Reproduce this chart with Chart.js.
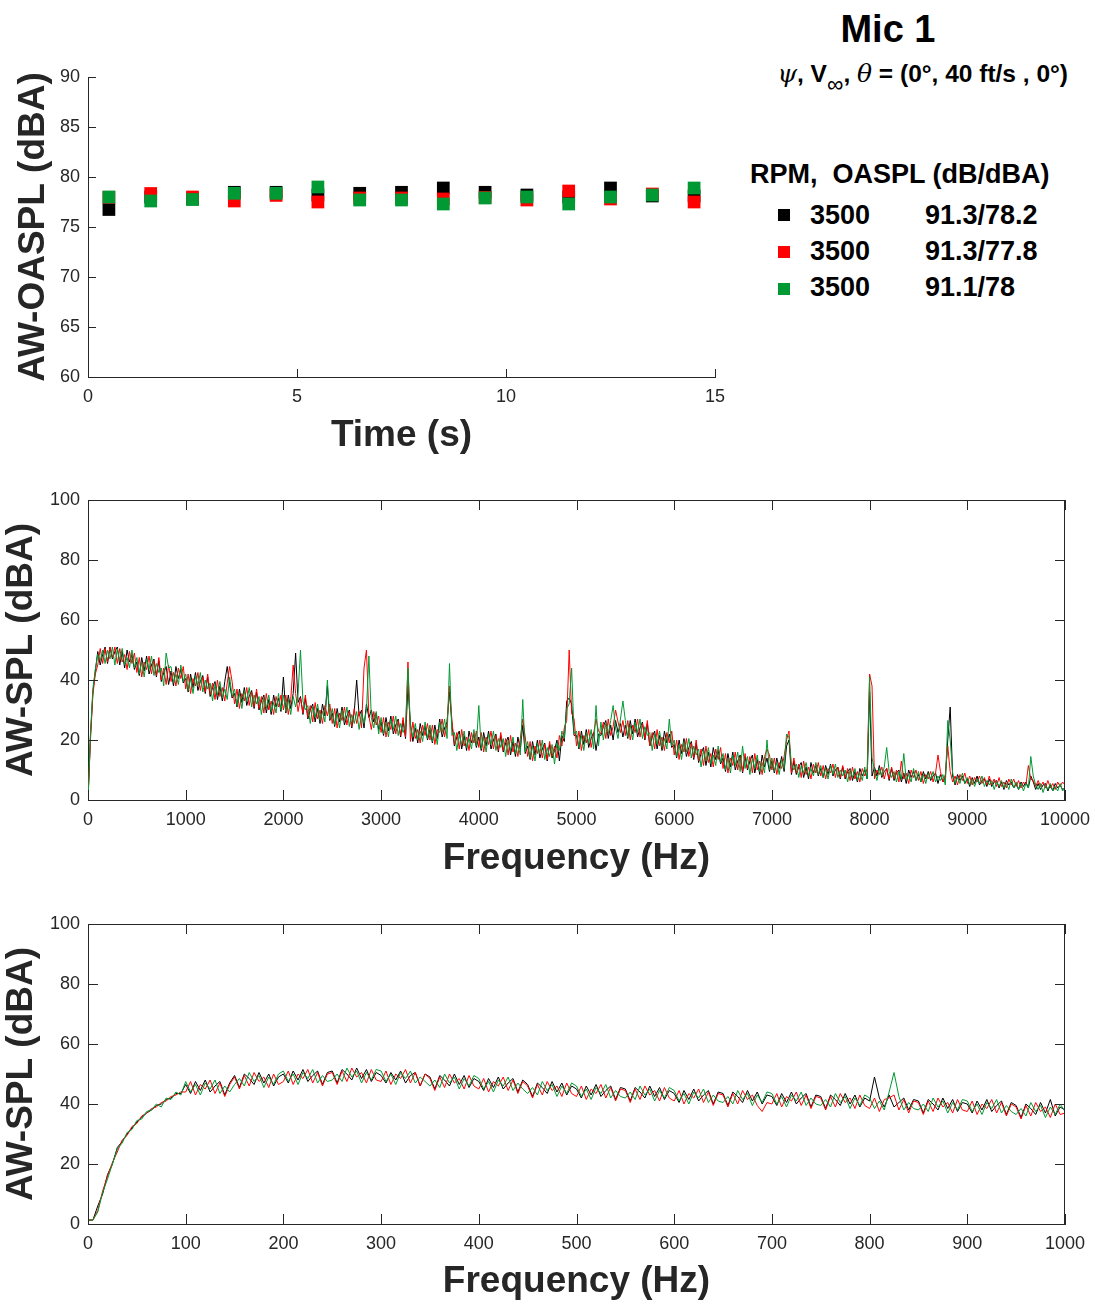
<!DOCTYPE html>
<html lang="en">
<head>
    <meta charset="UTF-8">
    <title>Mic 1 - AW-OASPL / AW-SPL</title>
    <script src="https://cdn.jsdelivr.net/npm/chart.js"></script>
    <style>
        body { margin: 0; background: #fff; }
        .page { position: relative; width: 1095px; height: 1310px; overflow: hidden;
                font-family: "Liberation Sans", Arial, Helvetica, sans-serif; color: #000; }
        .plot { position: absolute; left: 0; }
        .txt { position: absolute; font-weight: bold; white-space: nowrap; }
        .gk { font-family: "DejaVu Serif", "Liberation Serif", serif; font-style: italic; font-weight: normal; font-size: 25px; }
        .inf { font-weight: normal; font-size: 23px; position: relative; top: 10px; }
        .leg { font-size: 27px; line-height: 27px; }
        .sq { position: absolute; width: 12px; height: 12px; }
    </style>
</head>
<body>
<div class="page">
    <!-- Charts -->
    <div class="plot" style="top:55px;"><canvas id="oasplChart" width="740" height="415"></canvas></div>
    <div class="plot" style="top:480px;"><canvas id="splWideChart" width="1095" height="405"></canvas></div>
    <div class="plot" style="top:905px;"><canvas id="splLowChart" width="1095" height="405"></canvas></div>

    <!-- Title -->
    <div class="txt" style="left:788px; width:200px; text-align:center; top:10px; font-size:38px; line-height:38px;">Mic 1</div>
    <div class="txt" style="right:27px; top:62px; font-size:24.5px; line-height:24px;"><span class="gk">ψ</span>, V<span class="inf">∞</span>, <span class="gk">θ</span> = (0°, 40 ft/s , 0°)</div>

    <!-- Legend -->
    <div class="txt leg" style="left:750px; top:161px;">RPM,&nbsp;&nbsp;OASPL (dB/dBA)</div>
    <div class="sq" style="left:778px; top:209px; background:#000000;"></div>
    <div class="txt leg" style="left:810px; top:202px;">3500</div>
    <div class="txt leg" style="left:925px; top:202px;">91.3/78.2</div>
    <div class="sq" style="left:778px; top:246px; background:#ff0000;"></div>
    <div class="txt leg" style="left:810px; top:238px;">3500</div>
    <div class="txt leg" style="left:925px; top:238px;">91.3/77.8</div>
    <div class="sq" style="left:778px; top:283px; background:#009933;"></div>
    <div class="txt leg" style="left:810px; top:274px;">3500</div>
    <div class="txt leg" style="left:925px; top:274px;">91.1/78</div>
</div>

<script>
    // OASPL vs time (1 s blocks)
    const timeS = [0.5, 1.5, 2.5, 3.5, 4.5, 5.5, 6.5, 7.5, 8.5, 9.5, 10.5, 11.5, 12.5, 13.5, 14.5];
    const oasplBlack = [76.75, 78.0, 77.8, 78.47, 78.47, 78.2, 78.37, 78.47, 78.9, 78.47, 78.2, 78.0, 78.9, 78.1, 78.1];
    const oasplRed   = [77.97, 78.35, 78.0, 77.6, 78.16, 77.5, 77.9, 77.9, 77.8, 77.95, 77.7, 78.6, 77.8, 78.3, 77.5];
    const oasplGreen = [78.0, 77.6, 77.75, 78.37, 78.37, 79.0, 77.7, 77.7, 77.3, 77.9, 78.0, 77.3, 78.0, 78.2, 78.9];

    // Spectrum 0-10 kHz (25 Hz bins)
    const hiFreqHz = [
        0,25,50,75,100,125,150,175,200,225,250,275,300,325,350,375,400,425,450,475,
        500,525,550,575,600,625,650,675,700,725,750,775,800,825,850,875,900,925,950,975,
        1000,1025,1050,1075,1100,1125,1150,1175,1200,1225,1250,1275,1300,1325,1350,1375,1400,1425,1450,1475,
        1500,1525,1550,1575,1600,1625,1650,1675,1700,1725,1750,1775,1800,1825,1850,1875,1900,1925,1950,1975,
        2000,2025,2050,2075,2100,2125,2150,2175,2200,2225,2250,2275,2300,2325,2350,2375,2400,2425,2450,2475,
        2500,2525,2550,2575,2600,2625,2650,2675,2700,2725,2750,2775,2800,2825,2850,2875,2900,2925,2950,2975,
        3000,3025,3050,3075,3100,3125,3150,3175,3200,3225,3250,3275,3300,3325,3350,3375,3400,3425,3450,3475,
        3500,3525,3550,3575,3600,3625,3650,3675,3700,3725,3750,3775,3800,3825,3850,3875,3900,3925,3950,3975,
        4000,4025,4050,4075,4100,4125,4150,4175,4200,4225,4250,4275,4300,4325,4350,4375,4400,4425,4450,4475,
        4500,4525,4550,4575,4600,4625,4650,4675,4700,4725,4750,4775,4800,4825,4850,4875,4900,4925,4950,4975,
        5000,5025,5050,5075,5100,5125,5150,5175,5200,5225,5250,5275,5300,5325,5350,5375,5400,5425,5450,5475,
        5500,5525,5550,5575,5600,5625,5650,5675,5700,5725,5750,5775,5800,5825,5850,5875,5900,5925,5950,5975,
        6000,6025,6050,6075,6100,6125,6150,6175,6200,6225,6250,6275,6300,6325,6350,6375,6400,6425,6450,6475,
        6500,6525,6550,6575,6600,6625,6650,6675,6700,6725,6750,6775,6800,6825,6850,6875,6900,6925,6950,6975,
        7000,7025,7050,7075,7100,7125,7150,7175,7200,7225,7250,7275,7300,7325,7350,7375,7400,7425,7450,7475,
        7500,7525,7550,7575,7600,7625,7650,7675,7700,7725,7750,7775,7800,7825,7850,7875,7900,7925,7950,7975,
        8000,8025,8050,8075,8100,8125,8150,8175,8200,8225,8250,8275,8300,8325,8350,8375,8400,8425,8450,8475,
        8500,8525,8550,8575,8600,8625,8650,8675,8700,8725,8750,8775,8800,8825,8850,8875,8900,8925,8950,8975,
        9000,9025,9050,9075,9100,9125,9150,9175,9200,9225,9250,9275,9300,9325,9350,9375,9400,9425,9450,9475,
        9500,9525,9550,9575,9600,9625,9650,9675,9700,9725,9750,9775,9800,9825,9850,9875,9900,9925,9950,9975,
        10000
    ];
    const hiBlack = [
        0, 21, 36, 43, 49.5, 45, 48.5, 51, 45.5, 51, 47, 49.5, 51, 45, 49.5, 44, 50, 46, 48.5, 43.5,
        46, 41.5, 47.5, 43, 48, 42, 45, 47, 41, 46.5, 39.5, 42.5, 44.5, 38.5, 43, 38, 44.5, 40.5, 43.5, 39,
        40.5, 36, 42, 37.5, 42.5, 36.5, 39.5, 41.5, 35.5, 41, 34.5, 37.5, 39.5, 33.5, 38, 33, 39.5, 44.5, 38.5, 34,
        35.5, 31, 37, 32.5, 37.5, 31.5, 34.5, 36.5, 30.5, 36, 30, 33, 35, 29, 33.5, 28.5, 35, 31, 34, 29.5,
        41, 29, 35, 30.5, 35.5, 49, 32.5, 34.5, 28.5, 34, 27, 30, 32, 26, 30.5, 25.5, 32, 28, 38, 26.5,
        29, 24.5, 30.5, 26, 31, 25, 28, 30, 24, 29.5, 40, 28, 30, 24, 32, 27.5, 30, 26, 29, 23.5,
        26, 21.5, 27.5, 23, 28, 22, 25, 27, 21, 26.5, 20.5, 38, 25.5, 19.5, 24, 19, 25.5, 21.5, 24.5, 20,
        23.5, 19, 25, 20.5, 27, 21, 24, 26, 36, 25.5, 18, 21, 23, 17, 21.5, 16.5, 23, 19, 22, 17.5,
        21, 16.5, 22.5, 18, 23, 17, 20, 22, 16, 21.5, 16, 19, 21, 15, 19.5, 14.5, 21, 17, 25, 15.5,
        18, 13.5, 19.5, 15, 20, 14, 17, 19, 13, 18.5, 14, 16.5, 20, 13, 21.5, 19.5, 33, 34, 32, 21.5,
        21.5, 17, 23, 18.5, 23.5, 17.5, 20.5, 22.5, 16.5, 22, 21.5, 24.5, 26.5, 20.5, 25, 20, 26.5, 22.5, 25.5, 21,
        25, 20.5, 26.5, 22, 27, 21, 24, 26, 20, 25.5, 18, 21, 23, 17, 21.5, 16.5, 23, 19, 22, 17.5,
        18.5, 14, 20, 15.5, 20.5, 14.5, 17.5, 19.5, 13.5, 19, 12.5, 15.5, 17.5, 11.5, 16, 11, 17.5, 13.5, 16.5, 12,
        14, 9.5, 15.5, 11, 16, 10, 13, 15, 9, 14.5, 10, 13, 15, 9, 13.5, 8.5, 15, 11, 14, 9.5,
        13, 9, 14, 10.5, 14.5, 9.5, 18, 20, 8.5, 13, 8.5, 11, 12.5, 7.5, 11, 7, 12.5, 9, 11.5, 8,
        10.5, 7.5, 11.5, 8.5, 12, 8, 10, 11, 7, 11, 7, 9.5, 10.5, 6.5, 9.5, 6, 10.5, 8, 10, 7,
        36, 8, 11, 8, 11.5, 7.5, 9.5, 10.5, 6.5, 10.5, 6.5, 9, 10, 6, 9, 5.5, 10, 7.5, 9.5, 6.5,
        8.5, 6, 9.5, 7, 9.5, 6.5, 8, 9, 5.5, 8.5, 6, 7.5, 20, 31, 8, 5, 8.5, 6.5, 8, 5.5,
        7, 4.5, 7.5, 5.5, 8, 5, 6.5, 7, 4.5, 7, 4.5, 6, 6.5, 4, 6, 3.5, 6.5, 5, 6, 4,
        5.5, 3.5, 6, 4.5, 6, 4, 8, 6, 3.5, 5.5, 3.5, 5, 5.5, 3, 5, 3, 5.5, 4, 5, 3.5,
        4
    ];
    const hiRed = [
        0, 20, 35, 42, 45, 50.5, 45.5, 50.5, 46, 51, 47.5, 51, 45.5, 50.5, 46, 48.5, 43.5, 49.5, 45.5, 49,
        42.5, 47.5, 41, 46, 43.5, 48, 42, 46.5, 41.5, 47.5, 40, 44, 38.5, 45, 39.5, 42.5, 38, 44, 40.5, 44.5,
        37, 42, 35.5, 40.5, 38, 42.5, 36.5, 41, 36, 42, 35, 39, 33.5, 40, 34.5, 37.5, 33, 39, 44.5, 39.5,
        32, 37, 30.5, 35.5, 33, 37.5, 31.5, 36, 31, 37, 30.5, 34.5, 29, 35.5, 30, 33, 28.5, 34.5, 31, 35,
        30, 35, 28.5, 33.5, 45, 35.5, 29.5, 34, 29, 35, 27.5, 31.5, 26, 32.5, 27, 30, 25.5, 31.5, 28, 32,
        25.5, 30.5, 24, 29, 26.5, 31, 25, 29.5, 24.5, 30.5, 25.5, 29.5, 24, 44, 50, 28, 23.5, 29.5, 25, 28,
        22.5, 27.5, 21, 26, 23.5, 28, 22, 26.5, 21.5, 27.5, 21, 46, 19.5, 26, 20.5, 23.5, 19, 25, 21.5, 25.5,
        20, 25, 18.5, 23.5, 22.5, 27, 21, 25.5, 38, 26.5, 18.5, 22.5, 17, 23.5, 18, 21, 16.5, 22.5, 19, 23,
        17.5, 22.5, 16, 21, 18.5, 23, 17, 21.5, 16.5, 22.5, 16.5, 20.5, 15, 21.5, 16, 19, 14.5, 20.5, 27, 21,
        14.5, 19.5, 13, 18, 15.5, 20, 14, 18.5, 13.5, 19.5, 14.5, 18, 14, 21.5, 18, 24, 26.5, 50, 29, 27,
        18, 23, 16.5, 21.5, 19, 23.5, 17.5, 22, 27, 23, 22, 26, 20.5, 27, 21.5, 24.5, 30, 26, 22.5, 26.5,
        21.5, 26.5, 20, 25, 22.5, 27, 21, 25.5, 20.5, 26.5, 18, 22.5, 17, 23.5, 18, 21, 16.5, 22.5, 19, 23,
        15, 20, 13.5, 18.5, 16, 20.5, 14.5, 19, 14, 20, 13, 17, 11.5, 18, 12.5, 15.5, 11, 17, 13.5, 17.5,
        10.5, 15.5, 9, 14, 11.5, 16, 10, 14.5, 9.5, 15.5, 10.5, 14.5, 9, 15.5, 10, 13, 8.5, 14.5, 17, 15,
        10, 14, 8.5, 12.5, 10.5, 14.5, 20, 23, 9, 14, 9, 12, 7.5, 13, 8.5, 11, 7, 12, 9, 12.5,
        8, 11.5, 7, 10.5, 9, 12, 7.5, 11, 7.5, 11.5, 7.5, 10.5, 6.5, 11, 7, 9.5, 6, 10.5, 8, 10.5,
        42, 38, 7, 10, 8.5, 11, 7, 10.5, 7, 11, 7, 10, 6, 13, 7, 9, 5.5, 10, 7.5, 10,
        6.5, 9.5, 5.5, 8.5, 7, 9.5, 6, 9, 15, 9.5, 6, 8.5, 18, 9.5, 6, 8, 5, 8.5, 6.5, 9,
        5.5, 8, 5, 7.5, 6, 8, 5.5, 7.5, 5, 8, 5, 7, 4.5, 7.5, 4.5, 6, 4, 7, 5, 7,
        4.5, 6.5, 4, 6, 5, 11.5, 7, 6.5, 4.5, 6.5, 4.5, 6, 4, 6.5, 4, 5.5, 3.5, 6, 4.5, 6,
        5
    ];
    const hiGreen = [
        0, 22, 37, 43.5, 48.5, 46.5, 50, 45.5, 50, 47, 51, 45, 50.5, 46.5, 50.5, 45, 47.5, 44, 50, 44,
        47.5, 42, 46, 41, 47, 43.5, 48, 41.5, 45.5, 42.5, 44, 38, 49, 44, 44.5, 39, 42, 38.5, 45, 39.5,
        42, 36.5, 40.5, 35.5, 41.5, 38, 42.5, 36, 40, 37, 39, 33, 38.5, 35, 39.5, 34, 37, 33.5, 41, 34.5,
        37, 31.5, 35.5, 30.5, 36.5, 33, 37.5, 31, 35, 32, 34.5, 28.5, 34, 30.5, 35, 29.5, 32.5, 29, 35.5, 30,
        35, 29.5, 33.5, 28.5, 34.5, 31, 35.5, 50, 33, 30, 31.5, 25.5, 31, 27.5, 32, 26.5, 29.5, 26, 40, 27,
        30.5, 25, 29, 24, 30, 26.5, 31, 24.5, 28.5, 25.5, 29.5, 23.5, 29, 25.5, 30, 48, 27.5, 24, 29.5, 22,
        27.5, 22, 26, 21, 27, 23.5, 28, 21.5, 25.5, 22.5, 25, 44, 24.5, 21, 25.5, 20, 23, 19.5, 26, 20.5,
        25, 19.5, 23.5, 18.5, 26, 22.5, 27, 20.5, 45.5, 21.5, 22.5, 16.5, 22, 18.5, 23, 17.5, 20.5, 17, 23.5, 18,
        31.5, 17, 21, 16, 22, 18.5, 23, 16.5, 20.5, 17.5, 20.5, 14.5, 20, 16.5, 21, 15.5, 18.5, 15, 33.5, 16,
        19.5, 14, 18, 13, 19, 15.5, 20, 13.5, 17.5, 14.5, 18.5, 12, 19, 16.5, 23, 20.5, 30.5, 32, 44, 22,
        23, 17.5, 21.5, 16.5, 22.5, 19, 23.5, 17, 31.5, 18, 26, 20, 25.5, 22, 26.5, 31.5, 24, 20.5, 27, 33,
        26.5, 21, 25, 20, 26, 22.5, 27, 20.5, 24.5, 21.5, 22.5, 16.5, 22, 18.5, 23, 17.5, 20.5, 17, 27, 18,
        20, 14.5, 18.5, 13.5, 19.5, 16, 20.5, 14, 18, 15, 17, 11, 16.5, 13, 17.5, 12, 15, 11.5, 18, 12.5,
        15.5, 10, 14, 9, 15, 11.5, 16, 9.5, 18, 10.5, 14.5, 8.5, 14, 10.5, 15, 9.5, 12.5, 9, 20, 10,
        14, 9.5, 12.5, 8.5, 13.5, 10.5, 22, 21, 12, 10, 12, 7.5, 11.5, 9, 12.5, 8, 10.5, 8, 12.5, 8.5,
        11.5, 7.5, 10.5, 7, 11.5, 8.5, 12, 7.5, 10, 8, 10, 6, 10, 7.5, 10.5, 6.5, 9, 6.5, 11, 7,
        41, 14, 10, 6.5, 10.5, 8, 11, 17.5, 9.5, 7.5, 9.5, 6, 9.5, 7, 15.5, 6.5, 8.5, 6, 10.5, 6.5,
        9.5, 6, 8.5, 5.5, 9, 7, 9.5, 6, 8, 6.5, 8.5, 5, 26.5, 20, 9, 5.5, 7.5, 5.5, 9, 5.5,
        7.5, 5, 7, 4.5, 7, 5.5, 8, 4.5, 6.5, 5, 6.5, 3.5, 6, 4.5, 6.5, 4, 5.5, 3.5, 7, 4,
        6, 3.5, 5.5, 3, 5.5, 4, 14.5, 8, 5, 3.5, 5.5, 2.5, 5, 3.5, 5.5, 3, 4.5, 3, 5.5, 3,
        4
    ];

    // Spectrum 0-1 kHz (5 Hz bins)
    const loFreqHz = [
        0,5,10,15,20,25,30,35,40,45,
        50,55,60,65,70,75,80,85,90,95,
        100,105,110,115,120,125,130,135,140,145,
        150,155,160,165,170,175,180,185,190,195,
        200,205,210,215,220,225,230,235,240,245,
        250,255,260,265,270,275,280,285,290,295,
        300,305,310,315,320,325,330,335,340,345,
        350,355,360,365,370,375,380,385,390,395,
        400,405,410,415,420,425,430,435,440,445,
        450,455,460,465,470,475,480,485,490,495,
        500,505,510,515,520,525,530,535,540,545,
        550,555,560,565,570,575,580,585,590,595,
        600,605,610,615,620,625,630,635,640,645,
        650,655,660,665,670,675,680,685,690,695,
        700,705,710,715,720,725,730,735,740,745,
        750,755,760,765,770,775,780,785,790,795,
        800,805,810,815,820,825,830,835,840,845,
        850,855,860,865,870,875,880,885,890,895,
        900,905,910,915,920,925,930,935,940,945,
        950,955,960,965,970,975,980,985,990,995,
        1000
    ];
    const loBlack = [
        1.3, 1.3, 6, 10, 16.5, 20, 25.5, 27.5, 30, 32,
        34, 35.5, 37, 38, 39.5, 40, 41.5, 42, 43.5, 43.5,
        46.5, 43.5, 47.5, 44.5, 48, 44, 46, 47.5, 43, 47,
        49.5, 45.5, 50, 48.5, 46.5, 50.5, 47, 50, 46, 49,
        50, 47, 51, 48, 51.5, 47.5, 49.5, 51, 46.5, 50.5,
        51, 47, 51.5, 50, 48, 52, 48.5, 51.5, 47.5, 50.5,
        49.5, 47, 50.5, 48, 51, 47, 49.5, 50.5, 46, 50,
        49, 45, 49.5, 48, 46, 50, 46.5, 49.5, 45.5, 48.5,
        47.5, 44.5, 48.5, 45.5, 49, 45, 47, 48.5, 44, 48,
        46.5, 42.5, 47, 45.5, 43.5, 47.5, 44, 47, 43, 46,
        45, 42, 46, 43, 46.5, 42.5, 44.5, 46, 41.5, 45.5,
        45, 41, 45.5, 44, 42, 46, 42.5, 45.5, 41.5, 44.5,
        43.5, 40.5, 44.5, 41.5, 45, 41, 43, 44.5, 40, 44,
        43.5, 39.5, 44, 42.5, 40.5, 44.5, 41, 44, 40, 43,
        42.5, 39.5, 43.5, 40.5, 44, 40, 42, 43.5, 39, 43,
        42.5, 38.5, 43, 41.5, 39.5, 43.5, 40, 43, 39, 42,
        41, 49, 42, 39, 43, 39, 40.5, 42, 38, 41.5,
        41, 37, 41.5, 40, 38, 42, 38.5, 41.5, 37.5, 40.5,
        40, 37, 41, 38, 41.5, 37.5, 39.5, 41, 36.5, 40.5,
        39.5, 35.5, 40, 38.5, 36.5, 40.5, 37, 41.5, 36, 39,
        38
    ];
    const loRed = [
        1.3, 1.3, 4.5, 11, 16, 20.5, 24, 28, 29.5, 32.5,
        33.5, 36, 37, 38.5, 39, 40.5, 41, 42.5, 43, 44,
        44, 47.5, 43, 46.5, 45, 48, 43.5, 47, 42.5, 46.5,
        49, 45, 49.5, 46, 50.5, 47.5, 49, 45.5, 50, 46.5,
        47.5, 51, 46.5, 50, 48.5, 51.5, 47, 50.5, 46, 50,
        50.5, 46.5, 51, 47.5, 52, 49, 50.5, 47, 51.5, 48,
        47.5, 51, 46.5, 50, 48.5, 51.5, 47, 50.5, 46, 50,
        48.5, 44.5, 49, 45.5, 50, 47, 48.5, 45, 49.5, 46,
        45, 48.5, 44, 47.5, 46, 49, 44.5, 48, 43.5, 47.5,
        46, 42, 46.5, 43, 47.5, 44.5, 46, 42.5, 47, 43.5,
        42.5, 46, 41.5, 45, 43.5, 46.5, 42, 45.5, 41, 45,
        44.5, 40.5, 45, 41.5, 46, 43, 44.5, 41, 45.5, 42,
        41, 44.5, 40, 43.5, 42, 45, 40.5, 44, 39.5, 43.5,
        43, 39, 43.5, 40, 44.5, 41.5, 43, 39.5, 37.5, 40.5,
        40, 43.5, 39, 42.5, 41, 44, 39.5, 43, 38.5, 42.5,
        42, 38, 42.5, 39, 43.5, 40.5, 42, 38.5, 43, 39.5,
        38.5, 42, 37.5, 41.5, 42, 43, 38, 41.5, 37, 41,
        40.5, 36.5, 41, 37.5, 42, 39, 40.5, 37, 41.5, 38,
        37.5, 41, 36.5, 40, 38.5, 41.5, 37, 40.5, 36, 40,
        39, 35, 39.5, 36, 40.5, 37.5, 39, 35.5, 40, 36.5,
        37
    ];
    const loGreen = [
        1.3, 1.3, 4, 10.5, 15, 20, 25, 27, 30.5, 31.5,
        34.5, 35, 37.5, 38, 40, 39, 42, 41.5, 44, 43,
        47.5, 44, 46.5, 43, 47, 45, 48, 43.5, 46, 44,
        46.5, 48.5, 46, 50.5, 47.5, 49.5, 45.5, 49, 46.5, 50,
        51, 47.5, 50, 46.5, 50.5, 48.5, 51.5, 47, 49.5, 47.5,
        48, 50, 47.5, 52, 49, 51, 47, 50.5, 48, 51.5,
        51, 47.5, 50, 46.5, 50.5, 48.5, 51, 47, 49, 47.5,
        46, 48, 45.5, 50, 47, 49, 45, 48.5, 46, 49.5,
        48.5, 45, 47.5, 44, 48, 46, 49, 44.5, 47, 45,
        43.5, 45.5, 43, 47.5, 44.5, 46.5, 42.5, 46, 43.5, 47,
        46, 42.5, 45, 41.5, 45.5, 43.5, 46.5, 42, 44.5, 42.5,
        42, 44, 41.5, 46, 43, 45, 41, 44.5, 42, 45.5,
        44.5, 41, 43.5, 40, 44, 42, 45, 40.5, 43, 41,
        40.5, 42.5, 40, 44.5, 41.5, 43.5, 39.5, 43, 40.5, 44,
        43.5, 40, 42.5, 39, 43, 41, 44, 39.5, 42, 40,
        39.5, 41.5, 39, 43.5, 40.5, 42.5, 38.5, 42, 39.5, 43,
        42, 38.5, 41, 38, 44, 50.5, 42.5, 38, 40.5, 38.5,
        38, 40, 37.5, 42, 39, 41, 37, 40.5, 38, 41.5,
        41, 37.5, 40, 36.5, 40.5, 38.5, 41.5, 37, 39.5, 37.5,
        36.5, 38.5, 36, 40.5, 37.5, 39.5, 35.5, 39, 36.5, 40,
        37.5
    ];

    const BLACK = '#000000', RED = '#ff0000', GREEN = '#009933';
    const AXIS = '#262626';

    Chart.defaults.font.family = '"Liberation Sans", Arial, Helvetica, sans-serif';
    Chart.defaults.color = AXIS;

    // MATLAB style ticks pointing into the plot, optional full box
    const innerTicks = {
        id: 'innerTicks',
        afterDatasetsDraw(chart, args, opts) {
            const { ctx, chartArea: a, scales: { x, y } } = chart;
            const len = opts.len || 8;
            ctx.save();
            ctx.strokeStyle = AXIS;
            ctx.lineWidth = 1;
            ctx.beginPath();
            x.ticks.forEach(t => {
                const px = Math.round(x.getPixelForValue(t.value)) + 0.5;
                ctx.moveTo(px, a.bottom);
                ctx.lineTo(px, a.bottom - len);
                if (opts.box) { ctx.moveTo(px, a.top); ctx.lineTo(px, a.top + len); }
            });
            y.ticks.forEach(t => {
                const py = Math.round(y.getPixelForValue(t.value)) + 0.5;
                ctx.moveTo(a.left, py);
                ctx.lineTo(a.left + len, py);
                if (opts.box) { ctx.moveTo(a.right, py); ctx.lineTo(a.right - len, py); }
            });
            if (opts.box) {
                ctx.moveTo(a.left, a.top + 0.5); ctx.lineTo(a.right, a.top + 0.5);
                ctx.moveTo(a.right - 0.5, a.top); ctx.lineTo(a.right - 0.5, a.bottom);
            }
            ctx.stroke();
            ctx.restore();
        }
    };

    function pts(xs, ys) {
        return xs.map((x, i) => ({ x: x, y: ys[i] }));
    }

    function xAxis(min, max, step, title, height, padBottom) {
        return {
            type: 'linear', min: min, max: max,
            grid: { display: false, drawTicks: false },
            border: { display: true, color: AXIS, width: 1 },
            ticks: { stepSize: step, padding: 9, font: { size: 18 }, color: AXIS, maxRotation: 0, callback: v => String(v) },
            title: { display: true, text: title, color: AXIS, font: { size: 37, weight: 'bold' }, padding: { top: 0, bottom: padBottom } },
            afterFit: s => { s.height = height; s.paddingLeft = 0; s.paddingRight = 0; }
        };
    }

    function yAxis(min, max, step, title, padTop) {
        return {
            type: 'linear', min: min, max: max,
            grid: { display: false, drawTicks: false },
            border: { display: true, color: AXIS, width: 1 },
            ticks: { stepSize: step, padding: 8, font: { size: 18 }, color: AXIS },
            title: { display: true, text: title, color: AXIS, font: { size: 37, weight: 'bold' }, padding: { top: padTop, bottom: 0 } },
            afterFit: s => { s.width = 88; }
        };
    }

    function spectrumSet(label, xs, ys, color, order) {
        return {
            label: label, data: pts(xs, ys), borderColor: color, backgroundColor: color,
            borderWidth: 1, pointRadius: 0, tension: 0, order: order
        };
    }

    // OASPL vs time
    new Chart(document.getElementById('oasplChart'), {
        type: 'scatter',
        data: {
            datasets: [
                { label: 'run 1', data: pts(timeS, oasplBlack), backgroundColor: BLACK, order: 3 },
                { label: 'run 2', data: pts(timeS, oasplRed), backgroundColor: RED, order: 2 },
                { label: 'run 3', data: pts(timeS, oasplGreen), backgroundColor: GREEN, order: 1 }
            ]
        },
        options: {
            responsive: false,
            animation: false,
            layout: { padding: { top: 22, right: 25, left: 0, bottom: 0 } },
            elements: { point: { pointStyle: 'rect', radius: 9, borderWidth: 0 } },
            plugins: { legend: { display: false }, tooltip: { enabled: false }, innerTicks: { len: 8 } },
            scales: {
                x: xAxis(0, 15, 5, 'Time (s)', 93, 12),
                y: yAxis(60, 90, 5, 'AW-OASPL (dBA)', 12)
            }
        },
        plugins: [innerTicks]
    });

    // AW-SPL 0-10 kHz
    new Chart(document.getElementById('splWideChart'), {
        type: 'line',
        data: {
            datasets: [
                spectrumSet('run 1', hiFreqHz, hiBlack, BLACK, 3),
                spectrumSet('run 2', hiFreqHz, hiRed, RED, 2),
                spectrumSet('run 3', hiFreqHz, hiGreen, GREEN, 1)
            ]
        },
        options: {
            responsive: false,
            animation: false,
            layout: { padding: { top: 20, right: 30, left: 0, bottom: 0 } },
            plugins: { legend: { display: false }, tooltip: { enabled: false }, innerTicks: { len: 10, box: true } },
            scales: {
                x: xAxis(0, 10000, 1000, 'Frequency (Hz)', 85, 4),
                y: yAxis(0, 100, 20, 'AW-SPL (dBA)', 0)
            }
        },
        plugins: [innerTicks]
    });

    // AW-SPL 0-1 kHz
    new Chart(document.getElementById('splLowChart'), {
        type: 'line',
        data: {
            datasets: [
                spectrumSet('run 1', loFreqHz, loBlack, BLACK, 3),
                spectrumSet('run 2', loFreqHz, loRed, RED, 2),
                spectrumSet('run 3', loFreqHz, loGreen, GREEN, 1)
            ]
        },
        options: {
            responsive: false,
            animation: false,
            layout: { padding: { top: 19, right: 30, left: 0, bottom: 0 } },
            plugins: { legend: { display: false }, tooltip: { enabled: false }, innerTicks: { len: 10, box: true } },
            scales: {
                x: xAxis(0, 1000, 100, 'Frequency (Hz)', 86, 6),
                y: yAxis(0, 100, 20, 'AW-SPL (dBA)', 0)
            }
        },
        plugins: [innerTicks]
    });
</script>
</body>
</html>
